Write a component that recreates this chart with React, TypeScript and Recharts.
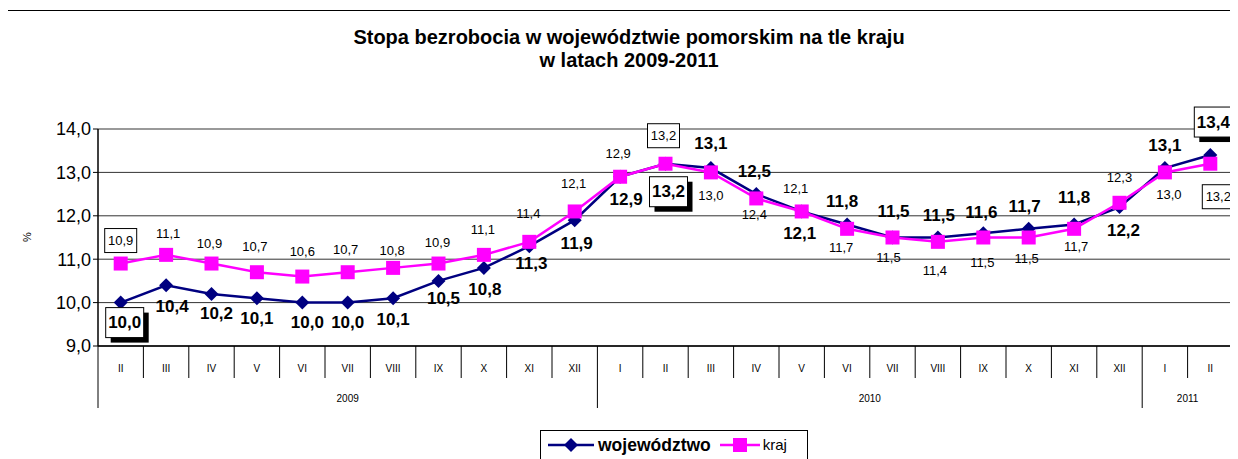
import { LineChart, Line, XAxis, YAxis, CartesianGrid, LabelList, ReferenceLine } from "recharts";

const months = ["II", "III", "IV", "V", "VI", "VII", "VIII", "IX", "X", "XI", "XII", "I", "II", "III", "IV", "V", "VI", "VII", "VIII", "IX", "X", "XI", "XII", "I", "II"];
const years = ["2009", "2010", "2011"];
const yearSpans = [11, 12, 2];
const wojewodztwo = [10.0, 10.4, 10.2, 10.1, 10.0, 10.0, 10.1, 10.5, 10.8, 11.3, 11.9, 12.9, 13.2, 13.1, 12.5, 12.1, 11.8, 11.5, 11.5, 11.6, 11.7, 11.8, 12.2, 13.1, 13.4];
const kraj = [10.9, 11.1, 10.9, 10.7, 10.6, 10.7, 10.8, 10.9, 11.1, 11.4, 12.1, 12.9, 13.2, 13.0, 12.4, 12.1, 11.7, 11.5, 11.4, 11.5, 11.5, 11.7, 12.3, 13.0, 13.2];
const yTicks = [9, 10, 11, 12, 13, 14];

// label placement (offset of the label centre from its point), boxed labels
const wojDx = [4, 6, 5, 0, 5, 0, 0, 5, 1, 2, 2, 6, 3, 0, -2, -2, -5, 1, 1, -2, -4, 0, 4, 0, 3];
const wojDy = [20, 21, 20, 20, 20, 20, 21, 18, 22, 17, 23, 23, 28, -25, -23, 22, -23, -26, -22, -21, -22, -27, 23, -23, -33];
const krajDx = [0, 2, -2, -2, 0, -2, -1, -1, -1, -1, -1, -2, -2, 0, -2, -6, -6, -4, -3, -1, -2, 2, 0, 4, 8];
const krajDy = [-23, -21, -20, -26, -25, -23, -17, -21, -25, -28, -28, -23, -28, 23, 16, -23, 19, 20, 29, 25, 21, 18, -25, 22, 33];
const boxed = [0, 12, 24];

const W = 1238;
const H = 459;
const PLOT_LEFT = 98;
const PLOT_RIGHT = 1233;
const PLOT_TOP = 129;
const PLOT_BOTTOM = 346;
const BAND = (PLOT_RIGHT - PLOT_LEFT) / months.length;
const FONT = "'Liberation Sans', Arial, sans-serif";
const NAVY = "#000080";
const MAGENTA = "#FF00FF";

const data = months.map((m, i) => ({ idx: i, month: m, woj: wojewodztwo[i], kraj: kraj[i] }));

const yearStarts = yearSpans.map((_, g) => yearSpans.slice(0, g).reduce((a, b) => a + b, 0));

const fmt = (v: number) => v.toFixed(1).replace(".", ",");

const MonthTick = (props: any) => {
  const { x, payload } = props;
  const i = Number(payload.value);
  const left = x - BAND / 2;
  const g = yearStarts.indexOf(i);
  return (
    <g>
      <line x1={left} x2={left} y1={PLOT_BOTTOM} y2={g >= 0 ? PLOT_BOTTOM + 62 : PLOT_BOTTOM + 32} stroke="#000" strokeWidth={1} />
      {i === months.length - 1 && (
        <line x1={x + BAND / 2} x2={x + BAND / 2} y1={PLOT_BOTTOM} y2={PLOT_BOTTOM + 62} stroke="#000" strokeWidth={1} />
      )}
      <text x={x} y={PLOT_BOTTOM + 22} textAnchor="middle" dominantBaseline="central" fontSize={10} fill="#000" fontFamily={FONT}>
        {months[i]}
      </text>
      {g >= 0 && (
        <text x={left + (yearSpans[g] * BAND) / 2} y={PLOT_BOTTOM + 52} textAnchor="middle" dominantBaseline="central" fontSize={10} fill="#000" fontFamily={FONT}>
          {years[g]}
        </text>
      )}
    </g>
  );
};

const Diamond = (props: any) => {
  const { cx, cy, index } = props;
  return <polygon key={`d${index}`} points={`${cx},${cy - 7} ${cx + 7},${cy} ${cx},${cy + 7} ${cx - 7},${cy}`} fill={NAVY} />;
};

const Square = (props: any) => {
  const { cx, cy, index } = props;
  return <rect key={`s${index}`} x={cx - 7} y={cy - 7} width={14} height={14} fill={MAGENTA} />;
};

const WojLabel = (props: any) => {
  const { x, y, value, index } = props;
  const cx = x + wojDx[index];
  const cy = y + wojDy[index];
  return (
    <g>
      {boxed.includes(index) && (
        <>
          <rect x={cx - 19 + 5} y={cy - 15 + 5} width={38} height={30} fill="#000" />
          <rect x={cx - 19} y={cy - 15} width={38} height={30} fill="#fff" stroke="#000" strokeWidth={1} />
        </>
      )}
      <text x={cx} y={cy} textAnchor="middle" dominantBaseline="central" fontSize={17} fontWeight="bold" fill="#000" fontFamily={FONT}>
        {fmt(value)}
      </text>
    </g>
  );
};

const KrajLabel = (props: any) => {
  const { x, y, value, index } = props;
  const cx = x + krajDx[index];
  const cy = y + krajDy[index];
  return (
    <g>
      {boxed.includes(index) && <rect x={cx - 16} y={cy - 12} width={32} height={24} fill="#fff" stroke="#000" strokeWidth={1} />}
      <text x={cx} y={cy} textAnchor="middle" dominantBaseline="central" fontSize={13} fill="#000" fontFamily={FONT}>
        {fmt(value)}
      </text>
    </g>
  );
};

export default function App() {
  return (
    <div style={{ position: "relative", width: W, height: H, margin: "-8px 0 0 -8px", overflow: "hidden", background: "#fff", fontFamily: FONT }}>
      <div style={{ position: "absolute", left: 5, top: 10, width: W, height: H, border: "1.5px solid #000", boxSizing: "border-box" }} />
      <div style={{ position: "absolute", left: 0, top: 26, width: W + 20, textAlign: "center", fontSize: 20, fontWeight: "bold", lineHeight: "23px", color: "#000" }}>
        Stopa bezrobocia w województwie pomorskim na tle kraju
        <br />
        w latach 2009-2011
      </div>
      <div style={{ position: "absolute", left: 22, top: 231, fontSize: 11, transform: "rotate(-90deg)", color: "#000" }}>%</div>
      <div style={{ position: "absolute", left: 0, top: 0 }}>
        <LineChart width={W} height={H} data={data} margin={{ top: PLOT_TOP, right: W - PLOT_RIGHT, bottom: 0, left: PLOT_LEFT - 60 }}>
          <CartesianGrid vertical={false} stroke="#333" strokeWidth={1} />
          <ReferenceLine y={14} stroke="#999" strokeWidth={2} />
          <XAxis
            dataKey="idx"
            type="category"
            scale="band"
            interval={0}
            tickLine={false}
            axisLine={{ stroke: "#000", strokeWidth: 1.5 }}
            tick={<MonthTick />}
            height={H - PLOT_BOTTOM}
          />
          <YAxis
            domain={[9, 14]}
            ticks={yTicks}
            interval={0}
            width={60}
            tickFormatter={fmt}
            tick={{ fontSize: 18, fill: "#000", fontFamily: FONT }}
            tickLine={{ stroke: "#000" }}
            tickSize={5}
            axisLine={{ stroke: "#000", strokeWidth: 1.5 }}
          />
          <YAxis yAxisId="r" orientation="right" width={0} tick={false} axisLine={{ stroke: "#999", strokeWidth: 2 }} domain={[9, 14]} />
          <Line dataKey="woj" name="województwo" stroke={NAVY} strokeWidth={2.5} dot={<Diamond />} activeDot={false} isAnimationActive={false}>
            <LabelList dataKey="woj" content={<WojLabel />} />
          </Line>
          <Line dataKey="kraj" name="kraj" stroke={MAGENTA} strokeWidth={2.5} dot={<Square />} activeDot={false} isAnimationActive={false}>
            <LabelList dataKey="kraj" content={<KrajLabel />} />
          </Line>
        </LineChart>
      </div>
      <div style={{ position: "absolute", left: 540, top: 430, width: 268, height: 40, border: "1.5px solid #000", boxSizing: "border-box", background: "#fff", display: "flex", alignItems: "flex-start", paddingTop: 4 }}>
        <svg width={46} height={20} style={{ marginLeft: 7 }}>
          <line x1={0} x2={46} y1={10} y2={10} stroke={NAVY} strokeWidth={2.5} />
          <polygon points="23,3 30,10 23,17 16,10" fill={NAVY} />
        </svg>
        <span style={{ fontSize: 17.5, fontWeight: "bold", marginLeft: 4, lineHeight: "20px" }}>województwo</span>
        <svg width={40} height={20} style={{ marginLeft: 9 }}>
          <line x1={0} x2={40} y1={10} y2={10} stroke={MAGENTA} strokeWidth={2.5} />
          <rect x={13} y={3} width={14} height={14} fill={MAGENTA} />
        </svg>
        <span style={{ fontSize: 15, marginLeft: 3, lineHeight: "20px" }}>kraj</span>
      </div>
    </div>
  );
}
